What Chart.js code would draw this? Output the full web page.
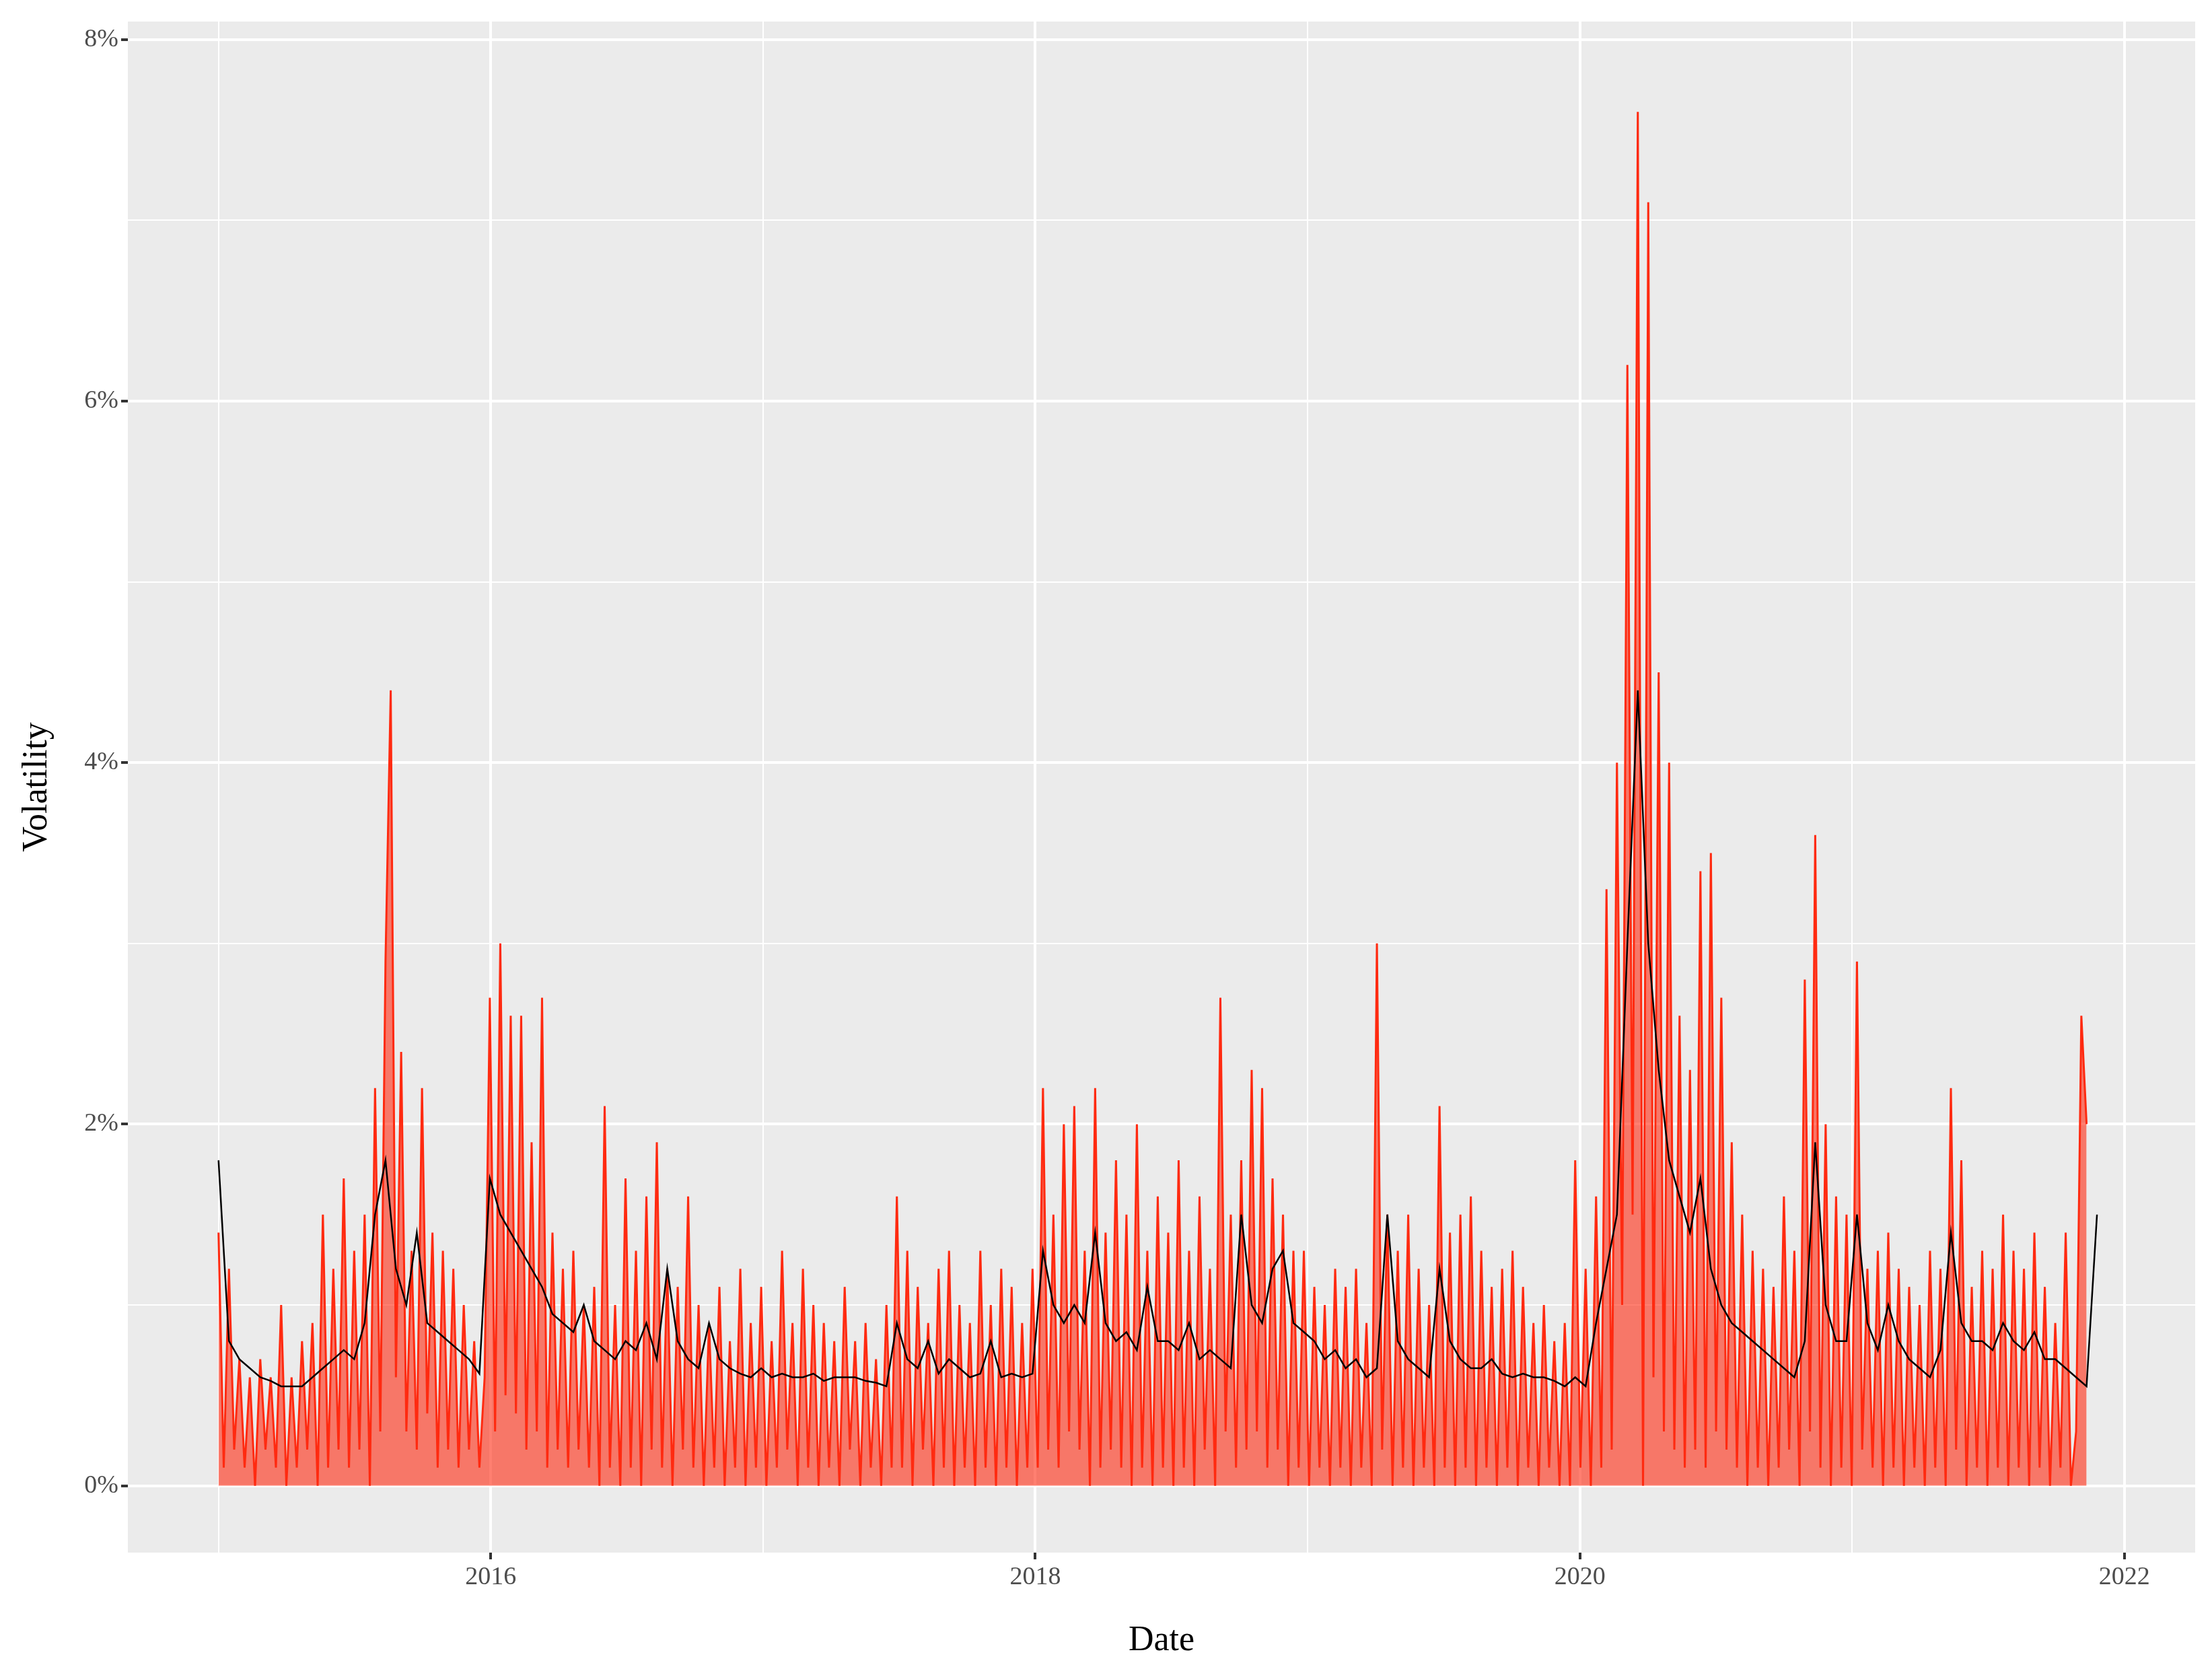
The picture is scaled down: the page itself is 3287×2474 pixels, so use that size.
<!DOCTYPE html>
<html><head><meta charset="utf-8">
<script src="https://cdn.jsdelivr.net/npm/chart.js@4"></script>
<style>html,body{margin:0;padding:0;background:#fff}#c{display:block}</style>
</head><body>
<div style="width:3287px;height:2474px"><canvas id="c"></canvas></div>
<script>
// Weekly realized volatility (%) starting 2015-01-01
const startYear = 2015;
const redStepDays = 7;
const redValues = [
1.4,0.1,1.2,0.2,0.7,0.1,0.6,0.0,0.7,0.2,0.6,0.1,1.0,0.0,0.6,0.1,0.8,0.2,0.9,0.0,1.5,0.1,1.2,0.2,1.7,0.1,
1.3,0.2,1.5,0.0,2.2,0.3,2.9,4.4,0.6,2.4,0.3,1.3,0.2,2.2,0.4,1.4,0.1,1.3,0.2,1.2,0.1,1.0,0.2,0.8,0.1,0.6,
2.7,0.3,3.0,0.5,2.6,0.4,2.6,0.2,1.9,0.3,2.7,0.1,1.4,0.2,1.2,0.1,1.3,0.2,1.0,0.1,1.1,0.0,2.1,0.1,1.0,0.0,
1.7,0.1,1.3,0.0,1.6,0.2,1.9,0.1,1.2,0.0,1.1,0.2,1.6,0.1,1.0,0.0,0.9,0.1,1.1,0.0,0.8,0.1,1.2,0.0,0.9,0.1,
1.1,0.0,0.8,0.1,1.3,0.2,0.9,0.0,1.2,0.1,1.0,0.0,0.9,0.1,0.8,0.0,1.1,0.2,0.8,0.0,0.9,0.1,0.7,0.0,1.0,0.1,
1.6,0.1,1.3,0.0,1.1,0.2,0.9,0.0,1.2,0.1,1.3,0.0,1.0,0.1,0.9,0.0,1.3,0.1,1.0,0.0,1.2,0.1,1.1,0.0,0.9,0.1,
1.2,0.1,2.2,0.2,1.5,0.1,2.0,0.3,2.1,0.2,1.3,0.0,2.2,0.1,1.4,0.2,1.8,0.1,1.5,0.0,2.0,0.1,1.3,0.0,1.6,0.1,
1.4,0.0,1.8,0.1,1.3,0.0,1.6,0.2,1.2,0.0,2.7,0.3,1.5,0.1,1.8,0.2,2.3,0.3,2.2,0.1,1.7,0.2,1.5,0.0,1.3,0.1,
1.3,0.0,1.1,0.1,1.0,0.0,1.2,0.1,1.1,0.0,1.2,0.1,0.9,0.0,3.0,0.2,1.5,0.0,1.3,0.1,1.5,0.0,1.2,0.1,1.0,0.0,
2.1,0.1,1.4,0.0,1.5,0.1,1.6,0.0,1.3,0.1,1.1,0.0,1.2,0.1,1.3,0.0,1.1,0.1,0.9,0.0,1.0,0.1,0.8,0.0,0.9,0.0,
1.8,0.1,1.2,0.0,1.6,0.1,3.3,0.2,4.0,1.0,6.2,1.5,7.6,0.0,7.1,0.6,4.5,0.3,4.0,0.2,2.6,0.1,2.3,0.2,3.4,0.1,
3.5,0.3,2.7,0.2,1.9,0.1,1.5,0.0,1.3,0.1,1.2,0.0,1.1,0.1,1.6,0.2,1.3,0.0,2.8,0.3,3.6,0.1,2.0,0.0,1.6,0.1,
1.5,0.0,2.9,0.2,1.2,0.1,1.3,0.0,1.4,0.1,1.2,0.0,1.1,0.1,1.0,0.0,1.3,0.1,1.2,0.0,2.2,0.2,1.8,0.0,1.1,0.1,
1.3,0.0,1.2,0.1,1.5,0.0,1.3,0.1,1.2,0.0,1.4,0.1,1.1,0.0,0.9,0.1,1.4,0.0,0.3,2.6,2.0
];
// Bi-weekly conditional volatility (%)
const blackStepDays = 14;
const blackValues = [
1.8,0.8,0.7,0.65,0.6,0.58,0.55,0.55,0.55,0.6,0.65,0.7,0.75,
0.7,0.9,1.5,1.8,1.2,1.0,1.4,0.9,0.85,0.8,0.75,0.7,0.62,
1.7,1.5,1.4,1.3,1.2,1.1,0.95,0.9,0.85,1.0,0.8,0.75,0.7,
0.8,0.75,0.9,0.7,1.2,0.8,0.7,0.65,0.9,0.7,0.65,0.62,0.6,
0.65,0.6,0.62,0.6,0.6,0.62,0.58,0.6,0.6,0.6,0.58,0.57,0.55,
0.9,0.7,0.65,0.8,0.62,0.7,0.65,0.6,0.62,0.8,0.6,0.62,0.6,
0.62,1.3,1.0,0.9,1.0,0.9,1.4,0.9,0.8,0.85,0.75,1.1,0.8,
0.8,0.75,0.9,0.7,0.75,0.7,0.65,1.5,1.0,0.9,1.2,1.3,0.9,
0.85,0.8,0.7,0.75,0.65,0.7,0.6,0.65,1.5,0.8,0.7,0.65,0.6,
1.2,0.8,0.7,0.65,0.65,0.7,0.62,0.6,0.62,0.6,0.6,0.58,0.55,
0.6,0.55,0.9,1.2,1.5,3.0,4.4,3.0,2.3,1.8,1.6,1.4,1.7,
1.2,1.0,0.9,0.85,0.8,0.75,0.7,0.65,0.6,0.8,1.9,1.0,0.8,
0.8,1.5,0.9,0.75,1.0,0.8,0.7,0.65,0.6,0.75,1.4,0.9,0.8,
0.8,0.75,0.9,0.8,0.75,0.85,0.7,0.7,0.65,0.6,0.55,1.5
];
const yTicks = [0,1,2,3,4,5,6,7,8];
const xTicks = [2015,2016,2017,2018,2019,2020,2021,2022];

const toPts = (vals, step) => vals.map((v,i)=>({x: startYear + i*step/365.25, y: v}));
const serif = "'Liberation Serif','DejaVu Serif',serif";

const bgPlugin = {id:'bg', beforeDraw(c){const a=c.chartArea,ctx=c.ctx;ctx.save();ctx.fillStyle='#EBEBEB';ctx.fillRect(a.left,a.top,a.right-a.left,a.bottom-a.top);ctx.restore();}};

new Chart(document.getElementById('c'), {
  type:'line',
  data:{datasets:[
    {data:toPts(blackValues,blackStepDays),borderColor:'#000',borderWidth:2.5,pointRadius:0,tension:0},
    {data:toPts(redValues,redStepDays),borderColor:'#FF2A10',borderWidth:3,pointRadius:0,tension:0,
     fill:'origin',backgroundColor:'rgba(255,42,16,0.6)'}
  ]},
  options:{
    responsive:true, maintainAspectRatio:false, animation:false,
    layout:{padding:{top:32,right:25,left:20,bottom:0}},
    plugins:{legend:{display:false},tooltip:{enabled:false},filler:{propagate:false}},
    scales:{
      x:{type:'linear',min:2014.667,max:2022.26,
        afterBuildTicks(s){s.ticks=xTicks.map(v=>({value:v}));},
        afterFit(s){s.height=167;},
        border:{display:false},
        grid:{color:'#fff',lineWidth:c=>c.tick&&c.tick.value%2===0?4:2,
              tickColor:c=>c.tick&&c.tick.value%2===0?'#333':'rgba(0,0,0,0)',tickLength:10},
        ticks:{callback:v=>v%2===0?String(v):'',color:'#4D4D4D',font:{family:serif,size:38},padding:4,maxRotation:0,autoSkip:false},
        title:{display:true,text:'Date',color:'#000',font:{family:serif,size:52},padding:{top:0}}
      },
      y:{type:'linear',min:-0.37,max:8.1,
        afterBuildTicks(s){s.ticks=yTicks.map(v=>({value:v}));},
        afterFit(s){s.width=170;},
        border:{display:false},
        grid:{color:'#fff',lineWidth:c=>c.tick&&c.tick.value%2===0?4:2,
              tickColor:c=>c.tick&&c.tick.value%2===0?'#333':'rgba(0,0,0,0)',tickLength:10},
        ticks:{callback:v=>v%2===0?v+'%':'',color:'#4D4D4D',font:{family:serif,size:38},padding:4,autoSkip:false},
        title:{display:true,text:'Volatility',color:'#000',font:{family:serif,size:52},padding:{bottom:10}}
      }
    }
  },
  plugins:[bgPlugin]
});
</script>
</body></html>
